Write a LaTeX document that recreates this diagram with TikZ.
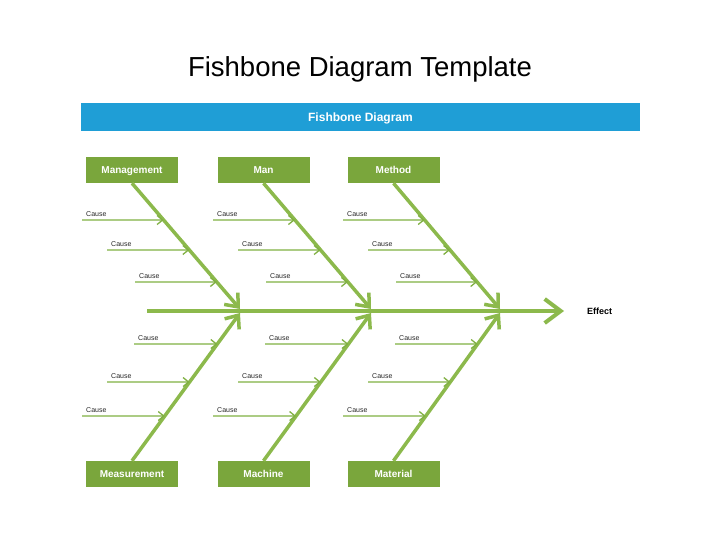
\documentclass[tikz,border=0pt]{standalone}
\usepackage{fontspec}
\setmainfont{Liberation Sans}
\usetikzlibrary{arrows.meta}
\definecolor{boxgreen}{RGB}{122,166,60}
\definecolor{bonegreen}{RGB}{140,185,76}
\definecolor{causegreen}{RGB}{128,176,66}
\definecolor{barblue}{RGB}{31,158,214}
\tikzset{
  catbox/.style={fill=boxgreen, draw=none, minimum width=92pt, minimum height=26pt, inner sep=0pt, text height=7.2pt, text depth=0pt, text=white, font=\bfseries\fontsize{10}{11}\selectfont},
  bone/.style={draw=bonegreen, line width=3.5pt, -{Straight Barb[length=11pt,width=18pt]}},
  spine/.style={draw=bonegreen, line width=4pt, -{Straight Barb[length=16pt,width=24pt]}},
  causearrow/.style={draw=causegreen, line width=1.3pt, -{Straight Barb[length=5.5pt,width=9pt]}},
  causelabel/.style={anchor=south west, inner sep=0pt, font=\fontsize{7}{8}\selectfont, text=black!85, yshift=3pt, xshift=4pt}
}
\begin{document}
\begin{tikzpicture}[x=1pt,y=-1pt]
\useasboundingbox (0,0) rectangle (720,540);
\node (title) at (360,69) {\fontsize{27.5}{32}\selectfont Fishbone Diagram Template};
\node (bar) [fill=barblue, minimum width=559pt, minimum height=28pt, inner sep=0pt, text height=8.7pt, text depth=0pt, text=white, font=\bfseries\fontsize{12}{14}\selectfont] at (360.5,117) {Fishbone Diagram};

% category boxes
\node[catbox] (mgmt) at (132,170) {Management};
\node[catbox] (man) at (263.5,170) {Man};
\node[catbox] (method) at (393.5,170) {Method};
\node[catbox] (meas) at (132,474) {Measurement};
\node[catbox] (mach) at (263.5,474) {Machine};
\node[catbox] (mat) at (393.5,474) {Material};

% spine
\coordinate (tail) at (147,311);
\node[font=\bfseries\fontsize{9}{10}\selectfont, inner sep=0pt] (effect) at (599.5,311.5) {Effect};
\coordinate (head) at (564,311);
\draw[spine] (tail) -- (head);

% bone ends
\coordinate (j1t) at (240,309);
\coordinate (j2t) at (371,309);
\coordinate (j3t) at (500,309);
\coordinate (j1b) at (240,313);
\coordinate (j2b) at (371,313);
\coordinate (j3b) at (500,313);

\draw[bone] (mgmt.south) -- (j1t);
\draw[bone] (man.south) -- (j2t);
\draw[bone] (method.south) -- (j3t);
\draw[bone] (meas.north) -- (j1b);
\draw[bone] (mach.north) -- (j2b);
\draw[bone] (mat.north) -- (j3b);

% top causes
\foreach \n/\dx/\bx/\j in {a/0/mgmt/j1t, b/131/man/j2t, c/261/method/j3t}{
  \coordinate (\n1) at (82+\dx,220);   \coordinate (\n1r) at (382+\dx,220);
  \coordinate (\n2) at (107+\dx,250);  \coordinate (\n2r) at (407+\dx,250);
  \coordinate (\n3) at (135+\dx,282);  \coordinate (\n3r) at (435+\dx,282);
  \foreach \k in {1,2,3}{
    \draw[causearrow] (\n\k) -- (intersection of \n\k--\n\k r and \bx.south--\j);
    \node[causelabel] (\n\k l) at (\n\k) {Cause};
  }
}
% bottom causes
\foreach \n/\dx/\bx/\j in {d/0/meas/j1b, e/131/mach/j2b, f/261/mat/j3b}{
  \coordinate (\n1) at (134+\dx,344);  \coordinate (\n1r) at (434+\dx,344);
  \coordinate (\n2) at (107+\dx,382);  \coordinate (\n2r) at (407+\dx,382);
  \coordinate (\n3) at (82+\dx,416);   \coordinate (\n3r) at (382+\dx,416);
  \foreach \k in {1,2,3}{
    \draw[causearrow] (\n\k) -- (intersection of \n\k--\n\k r and \bx.north--\j);
    \node[causelabel] (\n\k l) at (\n\k) {Cause};
  }
}
\end{tikzpicture}
\end{document}
